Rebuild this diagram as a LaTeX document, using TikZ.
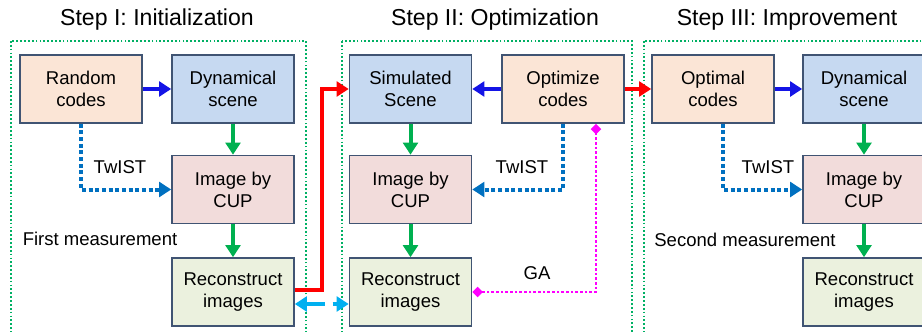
\documentclass[tikz,border=0pt]{standalone}
\usepackage{fontspec}
\setmainfont{Liberation Sans}
\usepackage{xcolor}
\usepackage{tikz}
\usetikzlibrary{arrows.meta,calc}
\definecolor{cuOrange}{RGB}{251,229,214}
\definecolor{cuBlue}{RGB}{198,217,241}
\definecolor{cuPink}{RGB}{242,220,219}
\definecolor{cuOlive}{RGB}{235,241,222}
\definecolor{cuLine}{RGB}{64,84,115}
\definecolor{cuFrame}{RGB}{0,176,100}
\definecolor{cuGreen}{RGB}{0,176,80}
\definecolor{cuArrBlue}{RGB}{20,20,230}
\definecolor{cuDot}{RGB}{0,112,192}
\definecolor{cuCyan}{RGB}{0,176,240}
\definecolor{cuRed}{RGB}{255,0,0}
\definecolor{cuMag}{RGB}{255,0,255}

\begin{document}
\begin{tikzpicture}[
  x=0.75pt, y=-0.75pt,
  box/.style={draw=cuLine, line width=1.2pt, align=center, inner sep=0pt,
    minimum width=91.5pt, minimum height=51pt,
    font=\fontsize{13.9pt}{16.5pt}\selectfont},
  codes/.style={box, fill=cuOrange},
  scene/.style={box, fill=cuBlue},
  cupbox/.style={box, fill=cuPink},
  recbox/.style={box, fill=cuOlive},
  frame/.style={draw=cuFrame, line width=1.3pt, dash pattern=on 1.3pt off 1.6pt},
  title/.style={font=\fontsize{17.3pt}{20pt}\selectfont},
  lbl/.style={font=\fontsize{13.9pt}{16.5pt}\selectfont},
  garr/.style={-{Triangle[length=9pt, width=11pt]}, line width=3pt, draw=cuGreen},
  barr/.style={-{Triangle[length=9pt, width=11pt]}, line width=3pt, draw=cuArrBlue},
  rarr/.style={-{Triangle[length=9pt, width=11pt]}, line width=3pt, draw=cuRed},
  twarr/.style={-{Triangle[length=9pt, width=11pt]}, line width=3pt, draw=cuDot, dash pattern=on 3pt off 2pt},
  gaarr/.style={{Diamond[length=8pt, width=8pt]}-{Diamond[length=8pt, width=8pt]}, line width=2pt, draw=cuMag, dash pattern=on 2pt off 1.5pt},
  carr/.style={{Triangle[length=9pt, width=11pt]}-{Triangle[length=9pt, width=11pt]}, line width=3pt, draw=cuCyan, dash pattern=on 14pt off 6pt}
]
\useasboundingbox (0,0) rectangle (922,332);
% frames
\draw[frame] (11,41) rectangle (306,345);
\draw[frame] (342,41) rectangle (632,345);
\draw[frame] (644,41) rectangle (935,345);
\node[title] (t1) at (157,20) {Step I: Initialization};
\node[title] (t2) at (495,20) {Step II: Optimization};
\node[title] (t3) at (787,20) {Step III: Improvement};
% step I
\node[codes] (rand) at (81,89) {Random\\codes};
\node[scene] (dyn1) at (233,89) {Dynamical\\scene};
\node[cupbox] (cup1) at (233,189.5) {Image by\\CUP};
\node[recbox] (rec1) at (233,292) {Reconstruct\\images};
\node[lbl] (tw1) at (120,167) {TwIST};
\node[lbl] (meas1) at (100,239) {First measurement};
% step II
\node[scene] (sim) at (410.5,89) {Simulated\\Scene};
\node[codes] (opt) at (563,89) {Optimize\\codes};
\node[cupbox] (cup2) at (410.5,189.5) {Image by\\CUP};
\node[recbox] (rec2) at (410.5,292) {Reconstruct\\images};
\node[lbl] (tw2) at (522,167) {TwIST};
\node[lbl] (ga) at (537,273) {GA};
% step III
\node[codes] (optim) at (713,89) {Optimal\\codes};
\node[scene] (dyn3) at (864,89) {Dynamical\\scene};
\node[cupbox] (cup3) at (864,189.5) {Image by\\CUP};
\node[recbox] (rec3) at (864,292) {Reconstruct\\images};
\node[lbl] (tw3) at (768,167) {TwIST};
\node[lbl] (meas2) at (745,240) {Second measurement};
\coordinate (bend) at (322,290);
% connectors
\draw[barr] (rand) -- (dyn1);
\draw[garr] (dyn1) -- (cup1);
\draw[garr] (cup1) -- (rec1);
\draw[twarr] (rand.south) |- (cup1.west);
\draw[rarr] (rec1.east |- bend) -- (bend) |- (sim.west);
\draw[carr] ($(rec1.east)+(0,12)$) -- ($(rec2.west)+(0,12)$);
\draw[barr] (opt) -- (sim);
\draw[garr] (sim) -- (cup2);
\draw[garr] (cup2) -- (rec2);
\draw[twarr] (opt.south) |- (cup2.east);
\draw[gaarr] ($(opt.south)+(33,0)$) |- (rec2.east);
\draw[rarr] (opt) -- (optim);
\draw[barr] (optim) -- (dyn3);
\draw[garr] (dyn3) -- (cup3);
\draw[garr] (cup3) -- (rec3);
\draw[twarr] ($(optim.south)+(10,0)$) |- (cup3.west);
\end{tikzpicture}
\end{document}
